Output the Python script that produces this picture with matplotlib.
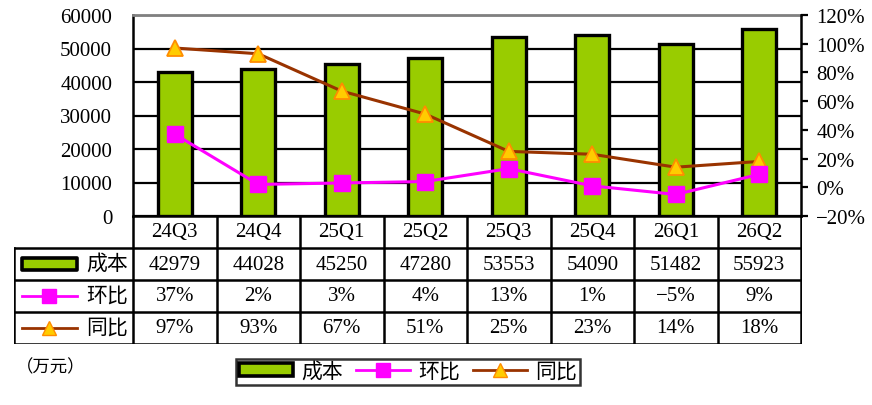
import numpy as np
import matplotlib
matplotlib.use('Agg')
import matplotlib.pyplot as plt
from matplotlib.patches import Rectangle, Patch
from matplotlib.lines import Line2D

plt.rcParams['font.family'] = ['Liberation Serif', 'Noto Sans CJK SC', 'DejaVu Sans']

quarters = ['24Q3', '24Q4', '25Q1', '25Q2', '25Q3', '25Q4', '26Q1', '26Q2']
cost = [42979, 44028, 45250, 47280, 53553, 54090, 51482, 55923]
qoq = [37, 2, 3, 4, 13, 1, -5, 9]
yoy = [97, 93, 67, 51, 25, 23, 14, 18]

green = '#99CC00'
magenta = '#FF00FF'
brown = '#993300'
tri_face = '#FFCC00'
tri_edge = '#FF8C00'
fs = 15

W, H = 872, 406
fig = plt.figure(figsize=(W / 100, H / 100), dpi=100)

# plot area in pixels
px_l, px_r, px_t, px_b = 133, 801, 16, 217
ax = fig.add_axes([px_l / W, 1 - px_b / H, (px_r - px_l) / W, (px_b - px_t) / H])
x = np.arange(len(quarters))
ax.bar(x, cost, width=0.41, color=green, edgecolor='black', linewidth=2.4, zorder=3)
ax.set_xlim(-0.5, len(quarters) - 0.5)
ax.set_ylim(0, 60000)
ax.set_yticks(range(0, 60001, 10000))
ax.set_xticks([])
ax.yaxis.grid(True, color='black', linewidth=1.6, zorder=0)
ax.set_axisbelow(True)
ax.tick_params(axis='y', length=0, labelsize=fs, pad=15)
for s in ['left', 'bottom']:
    ax.spines[s].set_linewidth(1.8)
ax.spines['top'].set_color('#808080')
ax.spines['top'].set_linewidth(2)
ax.spines['right'].set_visible(False)

ax2 = ax.twinx()
ax2.set_ylim(-20, 120)
ax2.set_yticks(range(-20, 121, 20))
ax2.set_yticklabels([f'{v}%'.replace('-', '\u2212') for v in range(-20, 121, 20)])
ax2.tick_params(axis='y', direction='out', length=5, width=1.6, labelsize=fs, pad=6)
ax2.spines['right'].set_linewidth(1.8)
ax2.spines['top'].set_visible(False)
ax2.spines['left'].set_visible(False)
ax2.spines['bottom'].set_visible(False)
ax2.plot(x, yoy, color=brown, linewidth=2.2, marker='^', markersize=12,
         markerfacecolor=tri_face, markeredgecolor=tri_edge, markeredgewidth=1.3, zorder=4)
ax2.plot(x, qoq, color=magenta, linewidth=2.2, marker='s', markersize=11,
         markerfacecolor=magenta, markeredgecolor=magenta, zorder=5)

# data table under the chart
tb_l, tb_r, tb_t, tb_b = 14, 802, 217, 345
tab = fig.add_axes([tb_l / W, 1 - tb_b / H, (tb_r - tb_l) / W, (tb_b - tb_t) / H])
col_px = (px_r - px_l) / len(quarters)
lw_cols = (px_l - tb_l) / col_px
x0 = -0.5 - lw_cols
tab.set_xlim(x0, len(quarters) - 0.5 + (tb_r - px_r) / col_px)
tab.set_ylim(4, 0)
tab.axis('off')
lk = dict(color='black', linewidth=1.8, solid_capstyle='projecting')
for r in [1, 2, 3, 4]:
    tab.plot([x0, len(quarters) - 0.5], [r, r], **lk)
for k in range(len(quarters) + 1):
    tab.plot([k - 0.5, k - 0.5], [0, 4], **lk)
tab.plot([x0, x0], [1, 4], **lk)

rows = [
    [f'{v}' for v in cost],
    [f'{v}%' for v in qoq],
    [f'{v}%' for v in yoy],
]
for i, q in enumerate(quarters):
    tab.text(i, 0.5, q, ha='center', va='center', fontsize=fs)
    for r, vals in enumerate(rows):
        s = vals[i].replace('-', '\u2212')
        tab.text(i, r + 1.5, s, ha='center', va='center', fontsize=fs)

# legend keys inside the table's first column
kx0, kx1 = x0 + 0.1, x0 + 0.75
tab.add_patch(Rectangle((kx0, 1.32), kx1 - kx0, 0.38, facecolor=green,
                        edgecolor='black', linewidth=2.6, joinstyle='round', zorder=3))
tab.plot([kx0, kx1], [2.5, 2.5], color=magenta, linewidth=2)
tab.plot([(kx0 + kx1) / 2], [2.5], marker='s', markersize=10, color=magenta)
tab.plot([kx0, kx1], [3.5, 3.5], color=brown, linewidth=2)
tab.plot([(kx0 + kx1) / 2], [3.5], marker='^', markersize=10,
         markerfacecolor=tri_face, markeredgecolor=tri_edge)
for r, name in enumerate(['成本', '环比', '同比']):
    tab.text(-0.5 - 0.06, r + 1.5, name, ha='right', va='center', fontsize=fs)

fig.text(16 / W, 1 - 368 / H, '（万元）', ha='left', va='center', fontsize=12.5)

handles = [
    Patch(facecolor=green, edgecolor='black', linewidth=2.6, joinstyle='round'),
    Line2D([], [], color=magenta, linewidth=2, marker='s', markersize=10,
           markerfacecolor=magenta),
    Line2D([], [], color=brown, linewidth=2, marker='^', markersize=10,
           markerfacecolor=tri_face, markeredgecolor=tri_edge),
]
leg = fig.legend(handles, ['成本', '环比', '同比'], loc='center',
                 bbox_to_anchor=(408 / W, 1 - 373 / H), ncol=3, fontsize=fs,
                 frameon=True, fancybox=False, edgecolor='black',
                 handlelength=2.6, handleheight=0.55, columnspacing=0.6,
                 handletextpad=0.4, borderpad=0.15, borderaxespad=0)
leg.get_frame().set_linewidth(1.8)

fig.savefig('out.png', dpi=100)
